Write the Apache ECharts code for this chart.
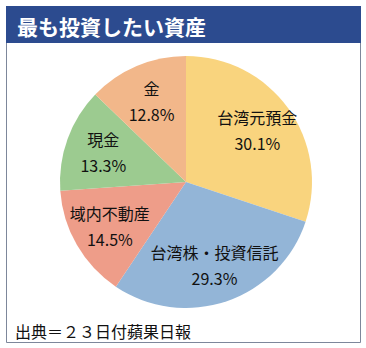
<!DOCTYPE html>
<html><head><meta charset="utf-8">
<script src="https://cdn.jsdelivr.net/npm/echarts@6/dist/echarts.min.js"></script>
<style>html,body{margin:0;padding:0;background:#fff}#c{width:366px;height:348px}</style>
</head><body><div id="c"></div>
<script>
const categories = ['台湾元預金', '台湾株・投資信託', '域内不動産', '現金', '金'];
const values = [30.1, 29.3, 14.5, 13.3, 12.8];
const colors = ['#F9D47E', '#93B5D7', '#EE9D89', '#9CCB90', '#F2B78A'];
const titleText = '最も投資したい資産';
const sourceText = '出典＝２３日付蘋果日報';

const font = '"Noto Sans CJK JP", "Noto Sans", sans-serif';
const data = categories.map((n, i) => ({ name: n, value: values[i], itemStyle: { color: colors[i] } }));
const labelData = categories.map((n, i) => ({ name: n, value: values[i] }));

const chart = echarts.init(document.getElementById('c'), null, { renderer: 'svg' });
chart.setOption({
  animation: false,
  graphic: [
    { type: 'rect', shape: { x: 6.5, y: 6.5, width: 354, height: 336 }, style: { fill: '#fff', stroke: '#7D879B', lineWidth: 1 }, z: -10 },
    { type: 'rect', shape: { x: 6, y: 6, width: 355, height: 37 }, style: { fill: '#2C4B8F' }, z: -5 }
  ],
  title: [
    { text: titleText, left: 12, top: 10, textStyle: { color: '#fff', fontSize: 21, fontWeight: 'bold', fontFamily: font } },
    { text: sourceText, left: 10, top: 318, textStyle: { color: '#111', fontSize: 16, fontWeight: 'normal', fontFamily: font } }
  ],
  series: [
    {
      type: 'pie', center: [186, 182], radius: [0, 126], startAngle: 90, clockwise: true,
      silent: true, label: { show: false }, labelLine: { show: false },
      data: data
    },
    {
      type: 'pie', center: [186, 182], radius: [44, 126], startAngle: 90, clockwise: true,
      silent: true, itemStyle: { color: 'rgba(0,0,0,0)' },
      label: {
        show: true, position: 'inside', formatter: '{b}\n{c}%',
        color: '#111', fontSize: 16, lineHeight: 26, fontFamily: font
      },
      labelLine: { show: false },
      data: labelData
    }
  ]
});
</script></body></html>
